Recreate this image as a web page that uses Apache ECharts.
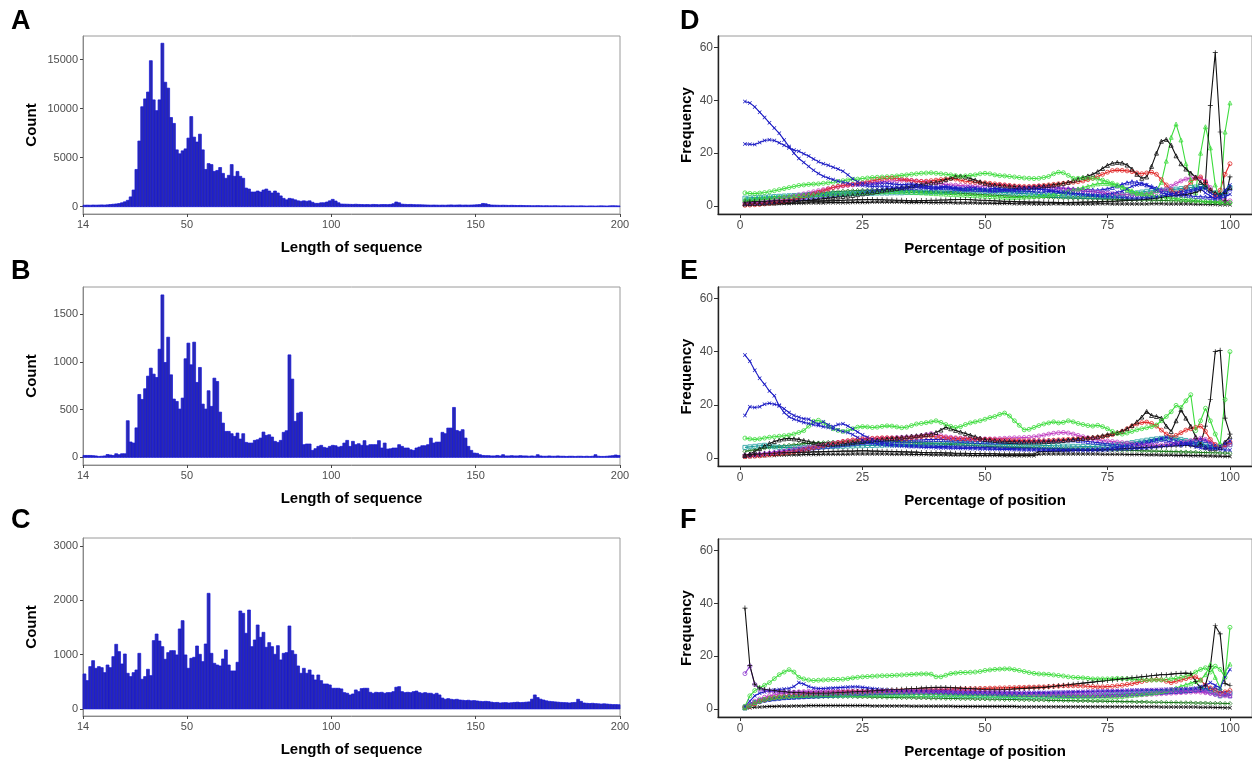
<!DOCTYPE html>
<html><head><meta charset="utf-8">
<script src="https://cdn.jsdelivr.net/npm/echarts@6/dist/echarts.min.js"></script>
<style>html,body{margin:0;padding:0;background:#fff}#c{width:1252px;height:763px}</style>
</head><body><div id="c"></div>
<script>
// ---------- histogram data (bins of width 1 starting at 14) ----------
const binStart = 14;
const countsA = [
150,160,150,170,160,170,180,170,190,220,
250,280,320,400,500,650,1000,1700,3800,6700,
10200,11000,11700,14900,10900,9800,10900,16680,12700,12100,
9100,8500,5800,5400,5700,5900,7000,9200,7100,6600,
7400,5800,3800,4400,4300,3600,3700,4000,3400,2900,
3200,4300,3100,3600,3100,2900,1900,1800,1500,1500,
1600,1500,1700,1800,1600,1400,1600,1400,1100,850,
700,850,800,700,600,550,600,550,600,450,
340,340,400,400,480,600,750,580,400,270,
260,250,240,230,250,230,220,210,220,200,
230,220,200,220,220,210,230,300,480,400,
260,240,220,230,210,200,200,190,180,170,
160,170,160,150,160,150,170,180,160,170,
180,160,170,160,170,180,200,220,330,300,
220,170,160,150,140,150,140,130,140,130,
120,130,120,110,110,100,100,110,100,90,
100,90,90,100,90,80,90,80,80,90,
80,80,90,80,70,80,80,70,80,90,
80,70,90,100,90,80];
const countsB = [
20,20,20,18,15,10,12,15,30,25,
20,38,28,38,38,384,161,150,309,659,
607,719,851,935,872,837,1133,1702,994,1259,
865,611,586,506,621,1033,1197,970,1207,785,
942,558,506,698,534,830,795,474,359,272,
272,248,220,255,192,248,157,150,150,178,
185,202,265,230,237,213,168,157,178,262,
279,1074,820,377,464,474,133,140,140,73,
91,115,126,105,98,115,126,122,108,115,
150,178,115,168,133,143,126,175,122,133,
133,133,175,98,150,87,90,98,98,133,
115,98,98,80,73,98,108,122,122,133,
202,150,160,160,262,248,307,307,523,282,
272,290,202,115,73,45,42,28,20,18,
18,15,15,20,15,28,15,15,18,15,
15,18,15,15,12,15,12,28,15,12,
12,15,12,12,15,12,12,10,12,12,
10,12,12,10,12,10,12,28,12,10,
10,12,15,18,25,20];
const countsC = [
645,522,780,890,749,780,761,669,810,761,
964,1191,1056,829,1013,657,596,669,718,1025,
547,596,731,614,1259,1381,1252,1148,915,1038,
1074,1074,995,1474,1627,995,749,933,952,1160,
1007,872,1197,2131,1025,841,810,792,921,1087,
810,700,700,860,1805,1762,1394,1823,1148,1271,
1547,1320,1412,1136,1222,1148,1007,1166,903,1025,
1038,1529,1074,1007,792,657,749,657,718,626,
534,626,522,460,460,442,381,381,381,369,
301,289,258,276,350,319,375,381,381,307,
289,307,301,307,289,301,301,319,400,411,
319,301,307,301,319,330,301,289,301,289,
289,270,289,258,200,178,190,178,170,178,
165,160,154,160,150,154,147,140,135,140,
135,125,117,120,110,115,117,110,115,120,
125,117,120,125,130,180,258,210,180,165,
150,140,135,130,125,120,117,115,110,117,
120,178,140,110,104,100,104,98,95,90,
95,90,85,80,80,78];

const histTicks = [14,50,100,150,200];
const countTicksA = [0,5000,10000,15000];
const countTicksB = [0,500,1000,1500];
const countTicksC = [0,1000,2000,3000];
const posTicks = [0,25,50,75,100];
const freqTicks = [0,20,40,60];

// ---------- panel D (x = 1..100) ----------
const dBlue1 = [39.5,39,37.5,35.5,33.5,31.5,29.5,27.5,25,22.5,
20,18,16.5,15,13.5,12.3,11.3,10.6,10,9.4,
9,8.6,8.2,8,7.8,7.6,7.4,7.5,7.6,7.4,
7.2,7,6.8,7,7.2,7.4,7,6.8,6.5,6.6,
6.8,7,6.8,6.5,6.2,6,6.2,6.4,6.2,6,
5.8,5.6,5.8,6,5.8,5.6,5.4,5.5,5.6,5.4,
5.2,5.3,5.5,5.4,5.2,5,4.8,4.7,4.6,4.5,
4.4,4.3,4.2,4.3,4.5,4.8,5.2,5.6,6.5,7.5,
8,8.5,8,7,6,5,4.5,4.2,4,4.5,
5,5.5,6,6.5,5,3.8,2.8,3.5,6,8];
const dBlue2 = [23.5,23.4,23.3,24,24.8,25.1,24.8,23.9,23,22,
21.2,20.7,19.8,18.9,17.8,16.8,16,15.4,14.7,14,
13.2,11.8,10.3,9.2,8.6,8.4,8.3,8.5,8.7,8.6,
8.4,8.2,8,8.2,8.4,8.1,7.8,7.6,7.3,7.1,
7.3,7.5,7.2,7,6.8,6.9,7.1,6.9,6.6,6.4,
6.5,6.7,6.5,6.2,6,6.2,6.4,6.6,6.8,6.6,
6.4,6.2,6,5.7,5.4,5.2,5,4.8,4.6,4.4,
4.2,4,3.8,3.6,3.5,3.4,3.3,3.2,3.1,3,
3,3.1,3.2,3.3,3.5,3.8,4.2,4.6,5,5.4,
5.8,6.2,6.6,7,6.5,5,3.8,3,3.5,4.5];
const dGreen1 = [5,4.8,4.7,4.9,5.1,5.4,5.8,6.2,6.6,7,
7.4,7.8,8,8.2,8.3,8.4,8.6,8.8,9,9.3,
9.6,9.9,10.1,10.2,10.4,10.6,10.8,10.9,11,11.1,
11.2,11.4,11.6,11.8,12,12.2,12.4,12.5,12.6,12.4,
12.2,12,11.8,11.5,11.2,11.4,11.6,11.8,12.2,12.4,
12.2,11.8,11.5,11.4,11.2,11,10.8,10.6,10.5,10.4,
10.5,10.8,11.2,12.2,12.8,12.6,11.6,10.5,10.5,10.6,
10.5,10.5,10.2,9.8,9.2,8.6,8,7,6,5.2,
4.6,4.2,4,3.8,3.6,3.4,3.2,3,2.8,2.6,
2.4,2.2,2,1.8,1.6,1.5,1.4,1.3,1.2,1.2];
const dGreen2 = [2.5,2.6,2.8,3,3.1,3.2,3.4,3.5,3.6,3.7,
3.8,3.9,4,4.1,4.2,4.3,4.4,4.5,4.6,4.7,
4.8,4.9,5,5.1,5.2,5.2,5.3,5.3,5.4,5.4,
5.5,5.5,5.4,5.3,5.2,5.1,5,4.9,4.8,4.7,
4.6,4.5,4.4,4.3,4.2,4.1,4,3.9,3.8,3.7,
3.6,3.5,3.4,3.3,3.2,3.2,3.3,3.4,3.5,3.6,
3.8,4,4.2,4.5,4.8,5.2,5.6,6,6.5,7,
7.5,8,8.4,8.6,8.5,8.2,7.8,7.2,6.5,5.8,
5,4.8,4.6,5,6,9,17,26,31,25,
16,10,5,20,30,22,8,2,28,39];
const dBlackPeak = [1.5,1.6,1.7,1.8,1.8,1.9,2,2,2.1,2.1,
2.2,2.2,2.1,2,2,1.9,1.9,2,2,2.1,
2.2,2.3,2.3,2.4,2.4,2.5,2.5,2.4,2.4,2.3,
2.3,2.2,2.2,2.1,2,2,2.1,2.1,2.2,2.2,
2.3,2.3,2.4,2.4,2.5,2.5,2.4,2.3,2.2,2.2,
2.1,2,1.9,1.8,1.8,1.7,1.6,1.6,1.5,1.5,
1.5,1.4,1.4,1.4,1.3,1.3,1.3,1.4,1.4,1.5,
1.5,1.6,1.6,1.7,1.8,1.8,1.9,2,2.1,2.2,
2.3,2.4,2.6,2.8,3,3.3,3.6,3.8,4,4.2,
4.4,4.7,5.2,6,9,38,58,28,2,11];
const dBlackHump = [0.8,0.9,1,1,1.1,1.2,1.2,1.3,1.4,1.5,
1.6,1.8,2,2.2,2.4,2.6,2.8,3,3.2,3.4,
3.6,3.8,4,4.3,4.6,4.9,5.2,5.5,5.8,6.1,
6.4,6.7,7,7.3,7.6,7.9,8.2,8.5,8.8,9,
9.4,10,10.6,11.2,11.4,11,10.4,9.8,9.2,8.6,
8.2,8,7.8,7.6,7.5,7.4,7.2,7,7,7.2,
7.4,7.6,7.8,8,8.3,8.6,9,9.6,10.2,10.8,
11.4,12,13,14.2,15.4,16.2,16.5,16.3,15.5,14,
12,10.5,11,15,20,24.5,25.2,23,19,16,
14,12.5,11,9,7.5,6,5,4.5,5.5,7];
const dRed = [0.3,0.4,0.5,0.6,0.8,1,1.2,1.5,1.8,2.2,
2.6,3,3.5,4,4.6,5.2,5.8,6.4,7,7.5,
7.8,8,8.2,8.5,8.8,9.2,9.6,10,10.3,10.5,
10.6,10.4,10.2,9.9,9.6,9.4,9.3,9.4,9.6,9.8,
10,10.2,10.4,10.2,9.8,9.4,9.2,9,8.9,8.8,
8.6,8.4,8.2,8,7.8,7.6,7.5,7.4,7.4,7.5,
7.6,7.8,8,8.2,8.4,8.6,8.8,9,9.2,9.5,
10,10.5,11.2,12,12.8,13.4,13.6,13.5,13.3,13,
12.5,12.2,12.5,12.8,12,10,8,6,5,5.5,
7,9,10.5,11,9,6,4,6,12,16];
const dMagenta = [1,1.1,1.3,1.5,1.7,2,2.3,2.6,3,3.4,
3.8,4.2,4.6,5,5.4,5.8,6.2,6.6,7,7.3,
7.6,7.8,8,8.2,8.4,8.6,8.8,9,9.2,9.4,
9.5,9.6,9.7,9.8,9.7,9.5,9.3,9,8.8,8.6,
8.4,8.2,8,7.9,7.8,7.7,7.6,7.5,7.5,7.6,
7.7,7.8,7.9,7.8,7.6,7.4,7.2,7,7.2,7.4,
7.6,7.4,7.2,7,6.8,6.6,6.4,6.2,6,5.8,
5.6,5.4,5.2,5,4.8,4.6,4.5,4.4,4.3,4.2,
4.2,4.3,4.5,4.8,5.2,5.8,6.5,7.5,8.5,9.5,
10.2,10.5,10.8,10.5,9.5,7,4,2.5,2,2];
const dDarkGreen = [2,2.1,2.2,2.4,2.6,2.8,3,3.2,3.4,3.6,
3.8,4,4.2,4.4,4.6,4.8,5,5.2,5.4,5.5,
5.6,5.7,5.8,5.9,6,6,6.1,6.1,6.2,6.2,
6.2,6.1,6,5.9,5.8,5.7,5.6,5.5,5.4,5.3,
5.2,5.1,5,4.9,4.8,4.7,4.6,4.5,4.4,4.3,
4.2,4.1,4,3.9,3.8,3.7,3.6,3.5,3.5,3.4,
3.4,3.3,3.3,3.2,3.2,3.1,3.1,3,3,2.9,
2.9,2.8,2.8,2.7,2.7,2.6,2.6,2.5,2.5,2.4,
2.4,2.3,2.3,2.2,2.2,2.1,2.1,2,2,1.9,
1.9,1.8,1.8,1.7,1.7,1.6,1.6,1.5,1.5,1.4];
const dTeal = [3,3.1,3.2,3.3,3.4,3.5,3.6,3.7,3.8,3.9,
4,4.1,4.2,4.3,4.4,4.4,4.5,4.5,4.6,4.6,
4.6,4.7,4.7,4.7,4.8,4.8,4.8,4.9,4.9,4.9,
5,5,5,5.1,5.1,5.1,5.2,5.2,5.2,5.3,
5.3,5.4,5.5,5.6,5.7,5.8,5.8,5.7,5.6,5.5,
5.4,5.3,5.2,5.1,5,4.9,4.8,4.7,4.6,4.5,
4.4,4.3,4.2,4.1,4,3.9,3.8,3.8,3.7,3.7,
3.6,3.6,3.5,3.5,3.6,3.7,3.9,4.1,4.4,4.7,
5,5.3,5.6,5.8,5.9,6,6.1,6.2,6.4,6.6,
6.8,7,7.2,7.4,7,6,5,4,5,7];
const dBlackLow = [0.5,0.6,0.7,0.8,0.8,0.9,0.9,1,1,1,
1.1,1.1,1.1,1.2,1.2,1.2,1.2,1.3,1.3,1.3,
1.3,1.3,1.4,1.4,1.4,1.4,1.5,1.5,1.5,1.5,
1.5,1.5,1.5,1.4,1.4,1.4,1.4,1.4,1.3,1.3,
1.3,1.3,1.3,1.2,1.2,1.2,1.2,1.2,1.1,1.1,
1.1,1,1,1,1,0.9,0.9,0.9,0.9,0.8,
0.8,0.8,0.8,0.9,0.9,0.9,0.8,0.8,0.8,0.8,
0.8,0.8,0.9,0.9,0.9,0.8,0.8,0.8,0.8,0.8,
0.8,0.8,0.8,0.9,0.9,0.9,0.8,0.8,0.8,0.8,
0.8,0.8,0.7,0.7,0.7,0.6,0.6,0.5,0.5,0.5];
const dBlueLow = [1,1.1,1.2,1.3,1.5,1.7,1.9,2.1,2.3,2.5,
2.7,2.9,3.1,3.3,3.5,3.7,3.9,4.1,4.3,4.5,
4.7,4.9,5.1,5.3,5.5,5.7,5.9,6.1,6.3,6.5,
6.6,6.7,6.8,6.9,7,7.1,7.2,7.3,7.2,7.1,
7,6.9,6.8,6.7,6.6,6.5,6.4,6.3,6.2,6.1,
6,6.1,6.2,6.3,6.4,6.5,6.6,6.7,6.8,6.9,
7,7.1,7,6.9,6.8,6.7,6.6,6.5,6.4,6.3,
6.2,6.1,6,6.2,6.5,7,7.6,8.2,8.8,9.2,
9,8.5,8,7.4,6.8,6.2,5.6,5,4.6,4.2,
4,3.8,3.6,3.5,3.4,3.2,3,3.5,5,6.5];

// ---------- panel E ----------
const eBlue1 = [38.7,36.4,33,30,27.7,25.2,23.4,19.6,17.1,15.5,
14.6,14,13.4,13,12.5,12.2,11.8,11.5,11,10.5,
10,9.6,8.8,7.7,6.8,5.9,5.5,5.2,5,4.8,
4.6,4.5,4.4,4.3,4.2,4.2,4.1,4,4,3.9,
3.8,3.8,3.7,3.7,3.6,3.6,3.5,3.5,3.4,3.4,
3.3,3.3,3.2,3.2,3.2,3.1,3.1,3,3,3,
3,3,2.9,2.9,2.9,2.8,2.8,2.8,2.8,2.8,
2.8,2.8,2.9,2.9,3,3.1,3.2,3.3,3.4,3.5,
3.6,3.7,3.8,4,4.2,4.4,4.6,4.8,5,5.2,
5.4,5.6,5.2,4.8,4.4,4,3.6,3.2,3,3];
const eBlue2 = [16,19.3,19,19.3,20.2,20.6,20.2,19.8,18.5,17.1,
16,15.3,14.8,14.6,13.6,12.8,13.6,12.5,11.8,12.6,
12.9,12,11,9.8,8.7,7.8,7,6.3,5.8,5.4,
5.2,5,4.9,4.8,4.7,4.6,4.5,4.5,4.4,4.4,
4.3,4.3,4.2,4.2,4.1,4.1,4,4,3.9,3.9,
3.8,3.8,3.7,3.7,3.6,3.6,3.5,3.5,3.5,3.4,
3.4,3.4,3.3,3.3,3.3,3.2,3.2,3.2,3.2,3.2,
3.2,3.3,3.4,3.5,3.6,3.8,4,4.3,4.6,5,
5.4,5.8,6.2,6.6,7,7.4,7.8,7.2,6.6,6,
5.4,4.8,4.2,3.8,3.6,3.4,3.6,4.5,5.5,6.5];
const eGreen1 = [7.5,7.2,7,7.2,7.5,7.8,8,8.2,8.4,8.6,
9,9.6,10.3,12,13.8,14.2,13.2,12,11,10.4,
10,10.3,11,11.6,11.8,11.7,11.5,11.6,11.9,12.1,
12,11.7,11.4,11.6,12.2,12.8,13,13.3,13.6,14,
13.4,12.6,11.9,11.5,11.8,12.6,13.2,13.6,14,14.6,
15.2,15.6,16.4,16.9,15.8,14,12.3,10.6,10.8,11.5,
12.2,12.8,13.2,13.6,13.2,13.4,14,13.6,13,12.6,
12.2,12,12.3,11.8,11,10,9.2,9,9.4,10,
10.6,11,11.4,11.8,12.4,14,15.6,17.4,19.8,19,
21.5,23.8,10.3,14,18.7,14,9,5,22,40];
const eBlackPeak = [1.2,1.3,1.4,1.5,1.6,1.7,1.8,1.9,2,2,
2.1,2.1,2.2,2.2,2.3,2.3,2.4,2.4,2.5,2.5,
2.6,2.6,2.6,2.7,2.7,2.7,2.6,2.6,2.5,2.5,
2.4,2.4,2.3,2.3,2.2,2.2,2.1,2.1,2,2,
2,1.9,1.9,1.8,1.8,1.8,1.7,1.7,1.7,1.6,
1.6,1.6,1.5,1.5,1.5,1.5,1.5,1.5,1.5,1.5,
2.4,2.5,2.5,2.6,2.6,2.7,2.7,2.8,2.8,2.9,
2.9,3,3,3.1,3.2,3.3,3.4,3.5,3.6,3.7,
3.8,3.9,4,4.1,4.2,4.3,4.4,4.5,4.6,4.7,
4.8,4.6,4.4,5,12,22,40,40.5,15,9];
const eBlackHump = [1,1.5,2.5,3.5,4.5,5.5,6.2,6.8,7.2,7.4,
7.2,7,6.6,6.2,5.8,5.5,5.3,5.2,5.2,5.3,
5.4,5.6,5.8,6,6.2,6.4,6.6,6.8,7,7.2,
7.4,7.6,7.8,8,8.2,8.4,8.6,8.8,9,9.6,
10.5,11.6,11,10.4,9.8,9.2,8.6,8,7.5,7,
6.8,6.6,6.4,6.3,6.2,6.1,6,6,6,6,
6,6.1,6.2,6.3,6.4,6.6,6.8,7,7.2,7.4,
7.6,7.8,8,8.4,8.8,9.2,9.6,10.2,11,12.2,
13.6,15.4,17.5,16,15.6,15,12,10,14,18.1,
15,12,8,5,4,3.5,3.5,4,6,8];
const eRed = [0.5,0.6,0.7,0.8,1,1.2,1.4,1.6,1.8,2,
2.3,2.6,3,3.4,3.8,4.2,4.6,5,5.4,5.8,
6.2,6.5,6.8,7,7.2,7.3,7.4,7.5,7.6,7.6,
7.5,7.4,7.3,7.4,7.6,7.8,8,8.2,8.2,8,
7.8,7.6,7.4,7.3,7.2,7.2,7.1,7,7,7,
7,6.9,6.8,6.8,6.7,6.6,6.6,6.5,6.5,6.5,
6.5,6.5,6.6,6.7,6.8,6.9,7,7.1,7.2,7.3,
7.4,7.6,7.8,8,8.4,8.8,9.4,10,11,12,
12.8,13.3,13.5,13,12,10.5,9,8,8.5,9.5,
10.5,11,11.5,12,10,7,5,4,5,6];
const eMagenta = [1,1.1,1.2,1.4,1.6,1.8,2,2.3,2.6,2.9,
3.2,3.5,3.8,4.1,4.4,4.7,5,5.3,5.6,5.9,
6.2,6.4,6.6,6.8,7,7.1,7.2,7.3,7.4,7.5,
7.6,7.7,7.8,7.9,8,8.1,8.4,8.8,9.2,8.8,
8.4,8,7.8,7.6,7.5,7.4,7.3,7.2,7.2,7.2,
7.2,7.2,7.3,7.4,7.5,7.6,7.6,7.7,7.8,8,
8.3,8.6,9,9.3,9.5,9.6,9.4,9,8.5,8,
7.6,7.2,6.9,6.6,6.4,6.2,6,5.8,5.6,5.4,
5.2,5,4.9,4.8,4.8,4.9,5,5.2,5.5,5.8,
6.2,6.6,7,7.4,7,6,5,4,4.5,5];
const eDarkGreen = [2.5,2.8,3.1,3.4,3.7,4,4.2,4.4,4.6,4.8,
5,5.2,5.4,5.5,5.6,5.7,5.8,5.9,6,6,
6.1,6.1,6.2,6.2,6.3,6.3,6.4,6.4,6.4,6.4,
6.3,6.2,6.1,6,5.9,5.8,5.7,5.6,5.5,5.4,
5.3,5.2,5.1,5,4.9,4.8,4.7,4.6,4.5,4.4,
4.3,4.2,4.2,4.1,4.1,4,4,3.9,3.9,3.8,
3.8,3.7,3.7,3.6,3.6,3.5,3.5,3.4,3.4,3.3,
3.3,3.2,3.2,3.1,3.1,3,3,2.9,2.9,2.8,
2.8,2.7,2.7,2.6,2.6,2.5,2.5,2.4,2.4,2.3,
2.3,2.2,2.2,2.1,2.1,2,2,1.9,1.9,1.8];
const eTeal = [4,4.2,4.4,4.6,4.8,4.5,4.2,4,3.9,3.9,
3.9,4,4,4.1,4.1,4.2,4.2,4.3,4.3,4.4,
4.4,4.5,4.5,4.6,4.6,4.7,4.7,4.8,4.8,4.9,
4.9,5,5,5.1,5.1,5.2,5.2,5.3,5.3,5.4,
5.4,5.5,5.5,5.6,5.6,5.5,5.5,5.4,5.4,5.3,
5.3,5.2,5.2,5.1,5.1,5,5,4.9,4.9,4.8,
4.8,4.7,4.7,4.6,4.6,4.5,4.5,4.4,4.4,4.3,
4.3,4.3,4.4,4.5,4.6,4.8,5,5.2,5.5,5.8,
6.1,6.4,6.7,7,7.2,7.4,7.5,7.6,7.4,7,
6.6,6.2,5.8,5.4,5,4.6,4.2,4,4.5,5];
const eBlackLow = [0.5,0.6,0.7,0.8,0.9,1,1,1.1,1.1,1.2,
1.2,1.2,1.3,1.3,1.3,1.3,1.4,1.4,1.4,1.4,
1.4,1.4,1.5,1.5,1.5,1.5,1.5,1.5,1.5,1.5,
1.4,1.4,1.4,1.4,1.3,1.3,1.3,1.3,1.2,1.2,
1.2,1.2,1.1,1.1,1.1,1.1,1,1,1,1,
1,1,1,0.9,0.9,0.9,0.9,0.9,0.9,0.9,
1.4,1.5,1.5,1.5,1.5,1.5,1.5,1.5,1.5,1.5,
1.5,1.5,1.5,1.4,1.4,1.4,1.4,1.4,1.3,1.3,
1.3,1.3,1.2,1.2,1.2,1.1,1.1,1.1,1,1,
1,0.9,0.9,0.9,0.8,0.8,0.7,0.7,0.6,0.6];
const eBlueLow = [1,1.2,1.4,1.6,1.8,2,2.2,2.4,2.6,2.8,
3,3.2,3.4,3.6,3.8,4,4.2,4.4,4.6,4.8,
5,5.2,5.4,5.6,5.8,6,6.1,6.2,6.3,6.4,
6.5,6.6,6.6,6.7,6.7,6.8,6.8,6.9,6.9,7,
7,6.9,6.8,6.7,6.6,6.5,6.4,6.3,6.2,6.1,
6,6,6.1,6.1,6.2,6.2,6.3,6.3,6.4,6.4,
6.5,6.5,6.6,6.6,6.7,6.7,6.8,6.8,6.6,6.4,
6.2,6,5.8,5.6,5.4,5.2,5,4.8,4.6,4.4,
4.6,5,5.5,6,6.5,7,6.5,6,5.5,5,
5.5,6,6.5,7,6.5,5.5,4.5,4,5,6];

// ---------- panel F ----------
const fBlackSpike = [38.2,16.5,9.4,8,7.5,7.2,7,6.8,6.6,6.4,
6.3,6.2,6.1,6,6,6,6,6,6.1,6.2,
6.3,6.4,6.5,6.6,6.7,6.8,6.9,7,7.1,7.2,
7.3,7.4,7.5,7.6,7.7,7.8,7.9,8,8.1,8.2,
8.2,8.2,8.1,8,7.9,7.8,7.7,7.6,7.5,7.4,
7.3,7.3,7.3,7.4,7.5,7.6,7.7,7.8,7.9,8,
8.1,8.2,8.4,8.6,8.8,9,9.2,9.4,9.6,9.8,
10,10.2,10.4,10.6,10.8,11,11.2,11.4,11.6,11.8,
12,12.2,12.4,12.6,12.8,13,13,13.2,13.4,13.5,
13.6,13.4,10.4,8,9,16,31.5,28.4,9.6,9];
const fPurple = [13.4,16.2,9.3,7.5,7,6.8,6.6,6.5,6.4,6.3,
6.2,6.2,6.1,6.1,6,6,6,6,6,6,
6,6.1,6.1,6.2,6.2,6.3,6.3,6.4,6.4,6.5,
6.5,6.6,6.6,6.7,6.7,6.8,6.8,6.9,6.9,7,
7,7,6.9,6.9,6.8,6.8,6.7,6.7,6.6,6.6,
6.5,6.5,6.4,6.4,6.3,6.3,6.2,6.2,6.1,6.1,
6,6,6,6.1,6.1,6.2,6.2,6.3,6.3,6.4,
6.4,6.5,6.5,6.6,6.6,6.7,6.7,6.8,6.8,6.9,
6.9,7,7,7.1,7.1,7.2,7.2,7.3,7.3,7.4,
7.4,7.5,7.5,7,6.5,6,5.5,5,5.5,6];
const fGreen1 = [1,5,7,8,9,10,11.5,13,14,14.9,
14,12,11.4,11,10.8,10.9,11,11.1,11.2,11.2,
11.3,11.5,11.8,12,12.2,12.3,12.4,12.5,12.6,12.6,
12.7,12.8,12.9,13,13.1,13.2,13.3,13.3,13.2,12.2,
12.2,12.8,13.4,13.6,13.8,13.8,13.9,14,14.2,14.6,
14.8,15,15.1,15.2,15.2,14.9,14.6,14.2,13.8,13.5,
13.3,13.2,13.1,12.9,12.7,12.5,12.2,12,11.9,11.8,
11.6,11.4,11.4,11.4,11.4,11.5,11.6,11.5,11.4,11.3,
11.2,11.1,11,11,11,11.1,11.2,11.4,11.6,12,
12.4,13,14,15,15.6,14,16.2,15,12,30.9];
const fGreen2 = [0.5,1.5,2.5,3.2,3.8,4.2,4.5,4.7,4.9,5,
5.1,5.2,5.2,5.3,5.3,5.3,5.4,5.4,5.4,5.4,
5.5,5.5,5.5,5.5,5.5,5.6,5.6,5.6,5.6,5.6,
5.6,5.6,5.6,5.6,5.6,5.5,5.5,5.5,5.5,5.5,
5.5,5.4,5.4,5.4,5.4,5.3,5.3,5.3,5.3,5.2,
5.2,5.2,5.2,5.1,5.1,5.1,5,5,5,5,
4.9,4.9,4.9,4.8,4.8,4.8,4.7,4.7,4.7,4.6,
4.6,4.6,4.5,4.5,4.5,4.6,4.7,4.8,5,5.2,
5.4,5.6,5.8,6,6.3,6.6,7,7.5,8,8.6,
9.2,9.8,10.4,11,13,17,12,8,14,17];
const fRed = [0.5,1,2,3,3.5,4,4.3,4.6,4.8,5,
5.2,5.4,5.5,5.6,5.7,5.8,5.9,6,6.1,6.2,
6.3,6.4,6.5,6.5,6.6,6.6,6.7,6.7,6.8,6.8,
6.9,6.9,7,7,7.1,7.1,7.2,7.2,7.3,7.3,
7.4,7.4,7.5,7.5,7.6,7.6,7.7,7.7,7.8,7.8,
7.9,7.9,8,8,8.1,8.1,8.2,8.2,8.3,8.3,
8.4,8.4,8.5,8.6,8.7,8.8,8.8,8.8,8.8,8.7,
8.6,8.5,8.4,8.4,8.5,8.6,8.8,9,9.3,9.6,
10,10.4,10.8,11,11.2,11,10.5,10,10.5,11,
11.5,12,12.2,11,9,8,7,6,6.5,7];
const fBlue = [1,3,5,6,6.5,7,7.2,7.4,7.6,7.8,
8.5,10,9.5,8.5,8,7.8,7.8,7.9,8,8.1,
8.2,8.3,8.4,8.4,8.2,8,7.8,7.6,7.4,7.2,
7,6.9,6.8,6.8,6.7,6.7,6.6,6.6,6.5,6.5,
6.5,6.4,6.4,6.3,6.3,6.2,6.2,6.1,6.1,6,
6,6,6,6,6.1,6.1,6.1,6.2,6.2,6.2,
6.3,6.3,6.3,6.4,6.4,6.4,6.5,6.5,6.6,6.6,
6.7,6.7,6.8,6.8,6.9,6.9,7,7,7.1,7.1,
7.2,7.2,7.3,7.3,7.4,7.4,7.5,7.5,7.6,7.6,
7.7,7.8,8,8.5,9,10,9,8,12,15];
const fMagenta = [1,2,3,3.8,4.5,5,5.4,5.7,6,6.2,
6.4,6.5,6.6,6.7,6.7,6.8,6.8,6.8,6.8,6.8,
6.8,6.8,6.8,6.7,6.7,6.7,6.6,6.6,6.6,6.5,
6.5,6.5,6.4,6.4,6.4,6.3,6.3,6.3,6.2,6.2,
6.2,6.1,6.1,6.1,6,6,6,5.9,5.9,5.9,
5.8,5.8,5.8,5.7,5.7,5.7,5.6,5.6,5.6,5.5,
5.5,5.5,5.4,5.4,5.4,5.3,5.3,5.3,5.2,5.2,
5.2,5.1,5.1,5.1,5,5,5,5,5.1,5.2,
5.3,5.4,5.5,5.6,5.7,5.8,5.9,6,6.1,6.2,
6.3,6.4,6.5,6.4,6.2,6,5.6,5.2,5,5];
const fDarkGreen = [0.5,1.2,2,2.6,3.1,3.5,3.8,4,4.2,4.3,
4.4,4.5,4.5,4.6,4.6,4.6,4.7,4.7,4.7,4.7,
4.7,4.7,4.7,4.6,4.6,4.6,4.5,4.5,4.5,4.4,
4.4,4.4,4.3,4.3,4.3,4.2,4.2,4.2,4.1,4.1,
4.1,4,4,4,3.9,3.9,3.9,3.8,3.8,3.8,
3.7,3.7,3.7,3.6,3.6,3.6,3.5,3.5,3.5,3.4,
3.4,3.4,3.3,3.3,3.3,3.2,3.2,3.2,3.1,3.1,
3.1,3,3,3,2.9,2.9,2.9,2.8,2.8,2.8,
2.7,2.7,2.7,2.6,2.6,2.6,2.5,2.5,2.5,2.4,
2.4,2.4,2.3,2.3,2.3,2.2,2.2,2.2,2.1,2.1];
const fTeal = [0.5,1.5,2.5,3.2,3.6,3.9,4.1,4.3,4.4,4.5,
4.6,4.7,4.8,4.9,5,5,5.1,5.1,5.2,5.2,
5.3,5.3,5.4,5.4,5.5,5.5,5.5,5.6,5.6,5.6,
5.6,5.6,5.6,5.6,5.5,5.5,5.5,5.4,5.4,5.4,
5.3,5.3,5.3,5.2,5.2,5.2,5.1,5.1,5.1,5,
5,5,4.9,4.9,4.9,4.8,4.8,4.8,4.8,4.8,
4.8,4.8,4.8,4.9,4.9,4.9,5,5,5,5.1,
5.1,5.2,5.2,5.3,5.4,5.5,5.6,5.7,5.8,5.9,
6,6.1,6.2,6.3,6.4,6.5,6.6,6.7,6.8,6.9,
7,7.2,7.4,7.6,7.8,7,6,5,5.5,6];
const fBlackLow = [0.3,0.5,0.7,0.8,0.9,1,1,1.1,1.1,1.1,
1.2,1.2,1.2,1.3,1.3,1.3,1.3,1.3,1.3,1.3,
1.3,1.3,1.3,1.3,1.3,1.3,1.2,1.2,1.2,1.2,
1.2,1.2,1.2,1.2,1.1,1.1,1.1,1.1,1.1,1.1,
1.1,1.1,1.1,1,1,1,1,1,1,1,
1,1,1,1,1,1,0.9,0.9,0.9,0.9,
0.9,0.9,0.9,0.9,0.9,0.9,0.9,0.9,0.9,0.9,
0.9,0.9,0.9,0.9,0.9,0.9,0.9,0.9,0.9,0.9,
0.9,0.9,0.9,0.9,0.9,0.8,0.8,0.8,0.8,0.8,
0.8,0.8,0.8,0.7,0.7,0.7,0.6,0.6,0.5,0.5];
const fBlueLow = [0.5,1.5,2.5,3,3.4,3.7,3.9,4.1,4.3,4.4,
4.5,4.6,4.7,4.8,4.9,5,5.1,5.2,5.3,5.4,
5.5,5.6,5.7,5.8,5.9,6,6.1,6.2,6.2,6.3,
6.3,6.4,6.4,6.4,6.5,6.5,6.5,6.5,6.5,6.5,
6.4,6.4,6.3,6.3,6.2,6.2,6.1,6.1,6,6,
5.9,5.9,5.8,5.8,5.7,5.7,5.6,5.6,5.5,5.5,
5.4,5.4,5.3,5.3,5.2,5.2,5.1,5.1,5,5,
5,5,5.1,5.1,5.2,5.3,5.4,5.5,5.6,5.7,
5.8,5.9,6,6.1,6.2,6.3,6.4,6.5,6.6,6.7,
6.8,7,7.2,7.4,7.6,7.8,8,7,6,5];

// ---------- drawing ----------
const FONT = '"Liberation Sans", Arial, Helvetica, sans-serif';
const COL = {blue:'#1c1cc4', green:'#3ddc3d', black:'#111111', red:'#e02a2a',
  magenta:'#c23ec2', purple:'#9040d0', dgreen:'#1f7a1f', teal:'#1b9c9c'};
// [symbol, filled]
const SYM = {circle:['circle',false], tri:['triangle',false], diamond:['diamond',false], rect:['rect',false],
  plus:['path://M4.3,0H5.7V4.3H10V5.7H5.7V10H4.3V5.7H0V4.3H4.3Z',true]};

const grids = [
  {left:83, top:36, width:537, height:178},
  {left:83, top:287, width:537, height:178},
  {left:83, top:538, width:537, height:178},
  {left:718, top:36, width:536, height:178},
  {left:718, top:287, width:536, height:179},
  {left:718, top:539, width:536, height:178}
].map(g => Object.assign({show:true, borderColor:'#9a9a9a', borderWidth:1, containLabel:false}, g));

const tickLabel = {color:'#4d4d4d', fontSize:11, fontFamily:FONT, formatter: v => String(v)};
const nameStyle = {color:'#000', fontSize:15, fontWeight:'bold', fontFamily:FONT};

const xAxes = [], yAxes = [];
const yRanges = [[-745,17420,countTicksA],[-80,1785,countTicksB],[-130,3150,countTicksC]];
for (let i = 0; i < 3; i++) {
  xAxes.push({type:'value', gridIndex:i, min:14, max:200,
    axisLine:{onZero:false, lineStyle:{color:'#8a8a8a', width:1}},
    axisTick:{customValues:histTicks, length:3, lineStyle:{color:'#444'}},
    axisLabel:Object.assign({customValues:histTicks, margin:5}, tickLabel),
    splitLine:{show:false},
    name:'Length of sequence', nameLocation:'middle', nameGap:26, nameTextStyle:nameStyle});
  yAxes.push({type:'value', gridIndex:i, min:yRanges[i][0], max:yRanges[i][1],
    axisLine:{onZero:false, lineStyle:{color:'#8a8a8a', width:1}},
    axisTick:{customValues:yRanges[i][2], length:3, lineStyle:{color:'#444'}},
    axisLabel:Object.assign({customValues:yRanges[i][2], margin:5}, tickLabel),
    splitLine:{show:false},
    name:'Count', nameLocation:'middle', nameGap:44, nameTextStyle:nameStyle});
}
for (let i = 3; i < 6; i++) {
  xAxes.push({type:'value', gridIndex:i, min:-4.5, max:104.5,
    axisLine:{onZero:false, lineStyle:{color:'#222', width:1.4}},
    axisTick:{customValues:posTicks, length:4, lineStyle:{color:'#333'}},
    axisLabel:Object.assign({customValues:posTicks, margin:6}, tickLabel, {fontSize:12}),
    splitLine:{show:false},
    name:'Percentage of position', nameLocation:'middle', nameGap:27, nameTextStyle:nameStyle});
  yAxes.push({type:'value', gridIndex:i, min:-3, max:64.3,
    axisLine:{onZero:false, lineStyle:{color:'#222', width:1.4}},
    axisTick:{customValues:freqTicks, length:4, lineStyle:{color:'#333'}},
    axisLabel:Object.assign({customValues:freqTicks, margin:5}, tickLabel, {fontSize:12}),
    splitLine:{show:false},
    name:'Frequency', nameLocation:'middle', nameGap:24, nameTextStyle:nameStyle});
}

function histSeries(idx, counts) {
  return {type:'custom', xAxisIndex:idx, yAxisIndex:idx, silent:true, animation:false,
    data: counts.map((c, i) => [binStart + i, c]),
    renderItem: (params, api) => {
      const s = api.value(0), c = api.value(1);
      const a = api.coord([s, 0]), b = api.coord([s + 1, c]);
      return {type:'rect', shape:{x:a[0], y:b[1], width:b[0]-a[0], height:a[1]-b[1]},
        style:{fill:'#2a2ab2', stroke:'#1212d8', lineWidth:0.7}};
    }};
}
function lineSeries(idx, vals, color, sym, rotate) {
  return {type:'line', xAxisIndex:idx, yAxisIndex:idx, silent:true, animation:false,
    data: vals.map((v, i) => [i + 1, v]),
    symbol: sym[0], symbolSize: sym[1] ? 5 : 4, symbolRotate: rotate || 0, showSymbol:true,
    lineStyle:{color:color, width:1.1},
    itemStyle: sym[1] ? {color:color} : {color:'rgba(0,0,0,0)', borderColor:color, borderWidth:0.8}};
}
function panelLines(idx, L) {
  return L.map(s => lineSeries(idx, s[0], s[1], s[2], s[3]));
}

const series = [histSeries(0, countsA), histSeries(1, countsB), histSeries(2, countsC)]
.concat(panelLines(3, [
  [dBlackLow, COL.black, SYM.plus, 45], [dDarkGreen, COL.dgreen, SYM.diamond], [dTeal, COL.teal, SYM.rect],
  [dBlueLow, COL.blue, SYM.tri], [dMagenta, COL.magenta, SYM.circle], [dRed, COL.red, SYM.circle],
  [dGreen2, COL.green, SYM.tri], [dBlackHump, COL.black, SYM.tri], [dGreen1, COL.green, SYM.circle],
  [dBlackPeak, COL.black, SYM.plus], [dBlue2, COL.blue, SYM.plus, 45], [dBlue1, COL.blue, SYM.plus, 45]
])).concat(panelLines(4, [
  [eBlackLow, COL.black, SYM.plus, 45], [eDarkGreen, COL.dgreen, SYM.diamond], [eTeal, COL.teal, SYM.rect],
  [eBlueLow, COL.blue, SYM.tri], [eMagenta, COL.magenta, SYM.circle], [eRed, COL.red, SYM.circle],
  [eBlackHump, COL.black, SYM.tri], [eGreen1, COL.green, SYM.circle],
  [eBlackPeak, COL.black, SYM.plus], [eBlue2, COL.blue, SYM.plus, 45], [eBlue1, COL.blue, SYM.plus, 45]
])).concat(panelLines(5, [
  [fBlackLow, COL.black, SYM.plus, 45], [fDarkGreen, COL.dgreen, SYM.diamond], [fTeal, COL.teal, SYM.rect],
  [fBlueLow, COL.blue, SYM.tri], [fMagenta, COL.magenta, SYM.circle], [fRed, COL.red, SYM.circle],
  [fGreen2, COL.green, SYM.tri], [fBlue, COL.blue, SYM.plus, 45], [fGreen1, COL.green, SYM.circle],
  [fPurple, COL.purple, SYM.circle], [fBlackSpike, COL.black, SYM.plus]
]));

const panelLetters = ['A','B','C','D','E','F'];
const letterPos = [[11,8],[11,258],[11,507],[680,8],[680,258],[680,507]];
const graphic = panelLetters.map((t, i) => ({type:'text', left:letterPos[i][0], top:letterPos[i][1],
  style:{text:t, fill:'#000', font:'bold 27px ' + FONT}}));

const chart = echarts.init(document.getElementById('c'), null, {renderer:'canvas'});
chart.setOption({backgroundColor:'#fff', animation:false, grid:grids, xAxis:xAxes, yAxis:yAxes,
  series:series, graphic:graphic});
</script></body></html>
